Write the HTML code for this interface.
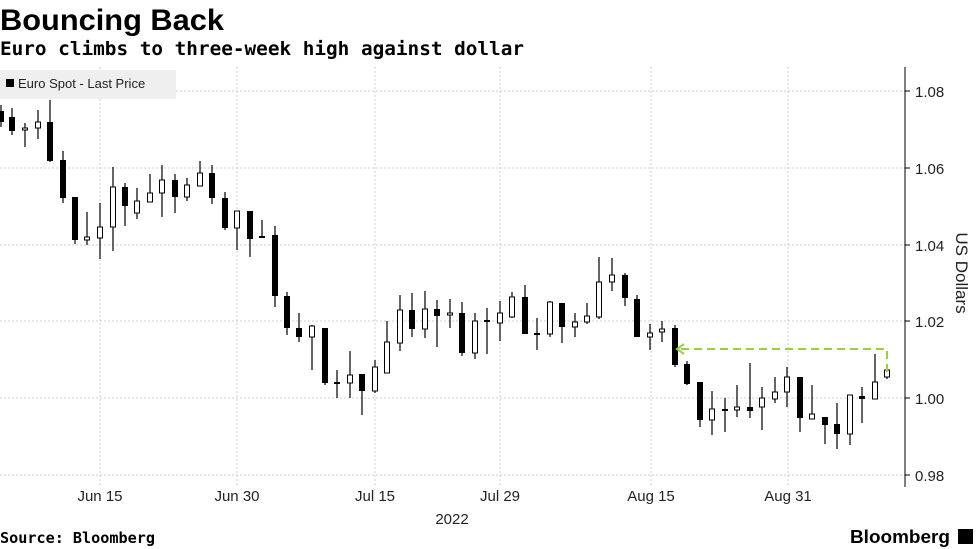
<!DOCTYPE html>
<html><head><meta charset="utf-8"><style>
body{margin:0;background:#fff;width:977px;height:549px;overflow:hidden;font-family:"Liberation Sans",sans-serif}
svg{position:absolute;left:0;top:0}
</style></head><body>
<svg id="s" width="977" height="549" xmlns="http://www.w3.org/2000/svg" font-family="Liberation Sans, sans-serif">
<text x="0" y="30" font-size="30" font-weight="bold" fill="#000" textLength="224" lengthAdjust="spacingAndGlyphs">Bouncing Back</text>
<text x="0" y="55" font-size="19" font-weight="bold" fill="#000" font-family="DejaVu Sans Mono, monospace" textLength="524" lengthAdjust="spacingAndGlyphs">Euro climbs to three-week high against dollar</text>
<g stroke="#ccc" stroke-dasharray="2,2" stroke-width="1">
<line x1="0" x2="905" y1="91" y2="91"/><line x1="0" x2="905" y1="168" y2="168"/><line x1="0" x2="905" y1="245" y2="245"/><line x1="0" x2="905" y1="321" y2="321"/><line x1="0" x2="905" y1="398" y2="398"/><line x1="0" x2="905" y1="475" y2="475"/>
<line x1="100" x2="100" y1="67" y2="486"/><line x1="237" x2="237" y1="67" y2="486"/><line x1="375" x2="375" y1="67" y2="486"/><line x1="500" x2="500" y1="67" y2="486"/><line x1="651" x2="651" y1="67" y2="486"/><line x1="788" x2="788" y1="67" y2="486"/>
</g>
<rect x="0" y="70" width="176" height="29" fill="#efefef"/>
<rect x="6" y="79" width="8" height="8" fill="#000"/>
<text x="18" y="88" font-size="13" fill="#222">Euro Spot - Last Price</text>
<line x1="905" x2="905" y1="67" y2="487" stroke="#000"/>
<g stroke="#000"><line x1="905" x2="910" y1="91" y2="91"/><line x1="905" x2="910" y1="168" y2="168"/><line x1="905" x2="910" y1="245" y2="245"/><line x1="905" x2="910" y1="321" y2="321"/><line x1="905" x2="910" y1="398" y2="398"/><line x1="905" x2="910" y1="475" y2="475"/></g>
<g font-size="15" fill="#222">
<text x="915" y="97">1.08</text><text x="915" y="174">1.06</text><text x="915" y="251">1.04</text><text x="915" y="327">1.02</text><text x="915" y="404">1.00</text><text x="915" y="481">0.98</text>
<text x="100" y="501" text-anchor="middle">Jun 15</text><text x="237" y="501" text-anchor="middle">Jun 30</text><text x="375" y="501" text-anchor="middle">Jul 15</text><text x="500" y="501" text-anchor="middle">Jul 29</text><text x="651" y="501" text-anchor="middle">Aug 15</text><text x="788" y="501" text-anchor="middle">Aug 31</text>
<text x="452" y="524" text-anchor="middle">2022</text>
</g>
<text transform="translate(956,273) rotate(90)" font-size="17" fill="#222" text-anchor="middle">US Dollars</text>
<text x="0" y="543" font-size="15" font-weight="bold" fill="#000" font-family="DejaVu Sans Mono, monospace" textLength="155" lengthAdjust="spacingAndGlyphs">Source: Bloomberg</text>
<text x="850" y="543" font-size="18" font-weight="bold" fill="#000" textLength="100" lengthAdjust="spacingAndGlyphs">Bloomberg</text>
<rect x="958" y="529" width="15" height="15" fill="#000"/>
<g id="c"></g>
<polyline points="887,372 887,349 677,349" fill="none" stroke="#99d13a" stroke-width="2" stroke-dasharray="8,5"/>
<polyline points="684,344 677,349 684,354" fill="none" stroke="#99d13a" stroke-width="2"/>
</svg>
<script>
var d=[
[1,'b',111,122,105,127],[12,'b',117,131,108,135],[25,'w',128,130,123,147],[38,'w',122,128,110,139],[50,'b',122,161,100,162],
[63,'b',160,198,151,203],[75,'b',197,240,197,244],[87,'w',237,240,212,245],[100,'w',227,238,203,259],[113,'w',187,227,167,251],
[125,'b',187,206,183,226],[137,'w',201,213,188,219],[150,'w',193,202,174,202],[162,'w',180,193,165,217],[175,'b',180,197,174,213],
[187,'w',185,197,178,201],[200,'w',173,186,161,186],[212,'b',173,198,165,204],[225,'b',198,228,192,230],[237,'w',211,228,211,250],
[250,'b',211,239,211,257],[262,'b',236,238,220,237],[275,'b',235,296,226,307],[287,'b',296,328,292,335],[299,'b',328,337,313,342],
[312,'w',326,337,325,370],[325,'b',328,383,328,385],[337,'b',382,384,370,398],[350,'w',375,383,351,398],[362,'b',374,391,374,415],
[375,'w',367,391,360,393],[387,'w',342,373,321,373],[400,'w',310,343,295,351],[412,'b',310,329,293,337],[425,'w',309,329,291,338],
[437,'b',309,316,300,347],[450,'w',313,315,299,328],[462,'b',313,353,302,356],[475,'w',321,353,313,359],[487,'b',320,322,308,354],
[500,'w',313,323,301,341],[512,'w',297,317,292,318],[525,'b',297,334,285,334],[537,'b',333,335,318,350],[550,'w',302,334,301,337],
[562,'b',303,327,303,343],[575,'w',322,327,313,337],[587,'w',316,322,303,324],[599,'w',282,317,257,319],[612,'w',275,282,258,291],
[625,'b',275,298,273,306],[637,'b',299,337,295,337],[650,'w',333,337,324,350],[662,'w',329,332,321,342],[675,'b',328,365,325,367],
[687,'b',364,384,361,385],[700,'b',382,420,382,427],[712,'w',409,420,391,435],[725,'b',409,411,398,432],[737,'w',407,410,385,417],
[750,'b',407,411,363,418],[762,'w',398,407,387,430],[775,'w',392,399,377,403],[787,'w',377,392,367,407],[800,'b',377,418,377,432],
[812,'w',414,419,385,419],[825,'b',417,425,417,444],[837,'b',424,434,403,449],[850,'w',395,434,395,445],[862,'b',396,399,387,423],
[875,'w',382,399,354,399],[887,'w',370,377,366,379]];
var h='';
d.forEach(function(c){var x=c[0];
h+='<line x1="'+x+'" x2="'+x+'" y1="'+c[4]+'" y2="'+c[5]+'" stroke="#000" stroke-width="1.2"/>';
var hh=Math.max(c[3]-c[2],2);
if(c[1]=='b')h+='<rect x="'+(x-3)+'" y="'+c[2]+'" width="6" height="'+hh+'" fill="#000"/>';
else h+='<rect x="'+(x-2.5)+'" y="'+c[2]+'" width="5" height="'+hh+'" fill="#fff" stroke="#000" stroke-width="1"/>';});
document.getElementById('c').innerHTML=h;
</script>
</body></html>
